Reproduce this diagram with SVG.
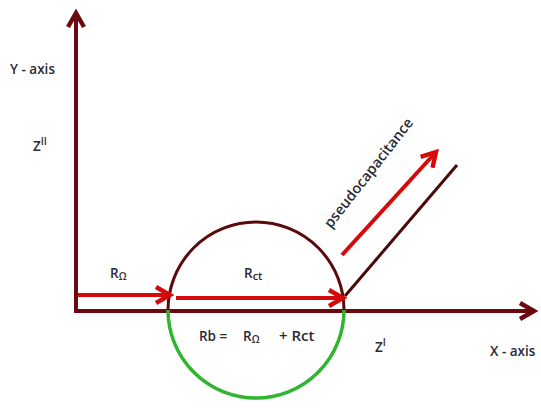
<svg xmlns="http://www.w3.org/2000/svg" width="541" height="408" viewBox="0 0 541 408">
<style>
.t{font-family:"Open Sans","Liberation Sans",sans-serif;font-size:13.5px;font-weight:600;fill:#2a2a36}
.ax{stroke:#6a0a10;stroke-width:4;fill:none}
.red{stroke:#d40a0a;stroke-width:4;fill:none}
</style>
<defs>
<marker id="ah" viewBox="0 0 10 10" refX="8" refY="5" markerWidth="5" markerHeight="5" orient="auto" markerUnits="strokeWidth">
<path d="M1,1 L8,5 L1,9" fill="none" stroke="#6a0a10" stroke-width="2.2"/>
</marker>
<marker id="rh" viewBox="0 0 10 10" refX="8" refY="5" markerWidth="5" markerHeight="5" orient="auto" markerUnits="strokeWidth">
<path d="M1,1 L8,5 L1,9" fill="none" stroke="#d40a0a" stroke-width="2.2"/>
</marker>
</defs>
<rect width="541" height="408" fill="#fff"/>
<g id="connectors">
<line class="ax" x1="76" y1="311" x2="76" y2="13" marker-end="url(#ah)"/>
<line class="ax" x1="74" y1="311" x2="534" y2="311" marker-end="url(#ah)"/>
<path d="M168,310 A88,88 0 0 1 344,310" fill="none" stroke="#5a0a0a" stroke-width="3"/>
<path d="M168,310 A88,88 0 0 0 344,310" fill="none" stroke="#2fb52f" stroke-width="3.5"/>
<line x1="345" y1="296" x2="457" y2="165" stroke="#4a0808" stroke-width="3"/>
<line class="red" x1="78" y1="295" x2="170" y2="295" marker-end="url(#rh)"/>
<line class="red" x1="176" y1="298" x2="343" y2="298" marker-end="url(#rh)"/>
<line class="red" x1="342" y1="255" x2="436" y2="152" marker-end="url(#rh)"/>
</g>
<g id="labels">
<text class="t" x="10" y="74">Y - axis</text>
<text class="t" x="33" y="151">Z<tspan style="font-size:10px" dy="-6">II</tspan></text>
<text class="t" x="110" y="278">R<tspan style="font-size:10px" dy="2">Ω</tspan></text>
<text class="t" x="244" y="278">R<tspan style="font-size:11px" dy="2">ct</tspan></text>
<text class="t" x="199" y="341">Rb =</text>
<text class="t" x="243" y="341">R<tspan style="font-size:10px" dy="2">Ω</tspan></text>
<text class="t" x="279" y="341" style="font-size:15px">+ Rct</text>
<text class="t" x="375" y="352">Z<tspan style="font-size:10px" dy="-6">I</tspan></text>
<text class="t" x="490" y="356">X - axis</text>
<text class="t" style="font-size:14.5px" transform="translate(331,229) rotate(-52)">pseudocapacitance</text>
</g>
</svg>
